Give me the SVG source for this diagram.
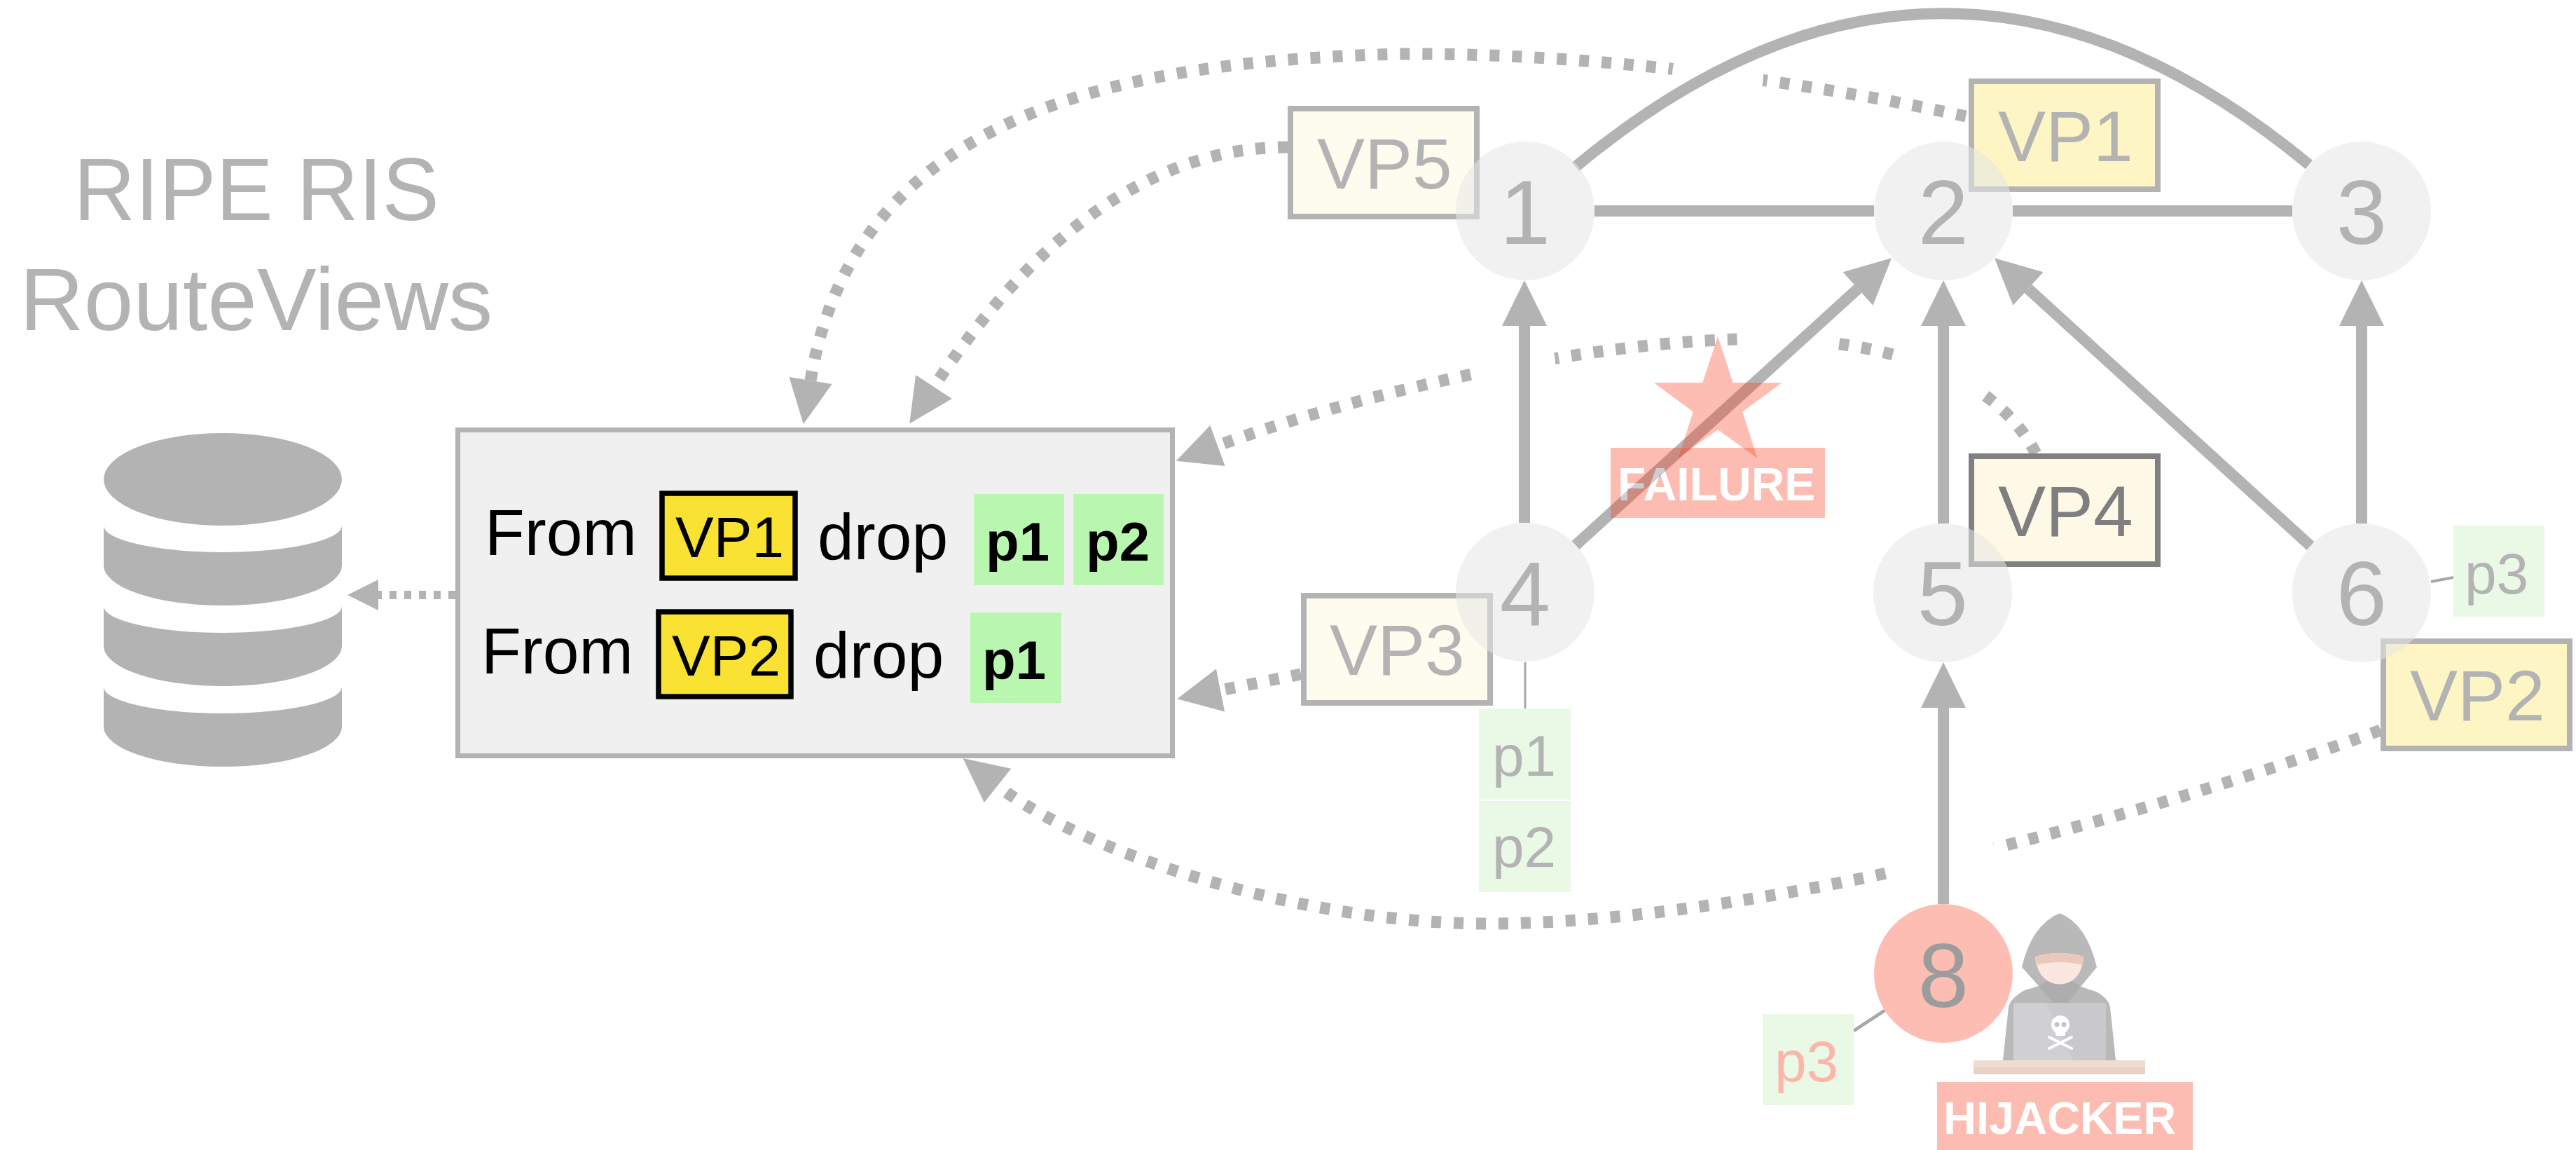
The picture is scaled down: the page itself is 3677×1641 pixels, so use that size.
<svg xmlns="http://www.w3.org/2000/svg" width="3677" height="1641" viewBox="0 0 3677 1641">
<style>
  text { font-family: "Liberation Sans", Arial, Helvetica, sans-serif; }
  .title { font-size: 127px; fill: #b3b3b3; }
  .rule { font-size: 93px; fill: #000; }
  .vpin { font-size: 82px; fill: #000; }
  .pin { font-size: 78px; font-weight: bold; fill: #000; }
  .vp { font-size: 102px; fill: #b3b3b3; }
  .num { font-size: 130px; fill: #b3b3b3; text-anchor: middle; }
  .pfx { font-size: 82px; fill: #b3b3b3; }
  .tag { font-weight: bold; fill: #fff; }
  .dot { fill: none; stroke: #b3b3b3; stroke-width: 17; stroke-dasharray: 14 18; marker-end: url(#dh); }
  .dotsm { fill: none; stroke: #b3b3b3; stroke-width: 12; stroke-dasharray: 10 11; marker-end: url(#sh); }
  .edge { fill: none; stroke: #b3b3b3; stroke-width: 16; }
  .arrow { marker-end: url(#ah); }
  .thin { fill: none; stroke: #a8a8a8; }
  .vpbox { fill: #fefcee; stroke: #b3b3b3; stroke-width: 8; }
  .vpsel { fill: #fdf6c4; }
  .vpdark { fill: #fef8e6; stroke: #808080; }
  .pbox { fill: #e9f9e6; }
  .gbox { fill: #b9f7b1; }
  .ybox { fill: #f9e231; stroke: #000; stroke-width: 7.5; }
  .node { fill: #e6e6e6; fill-opacity: .55; }
  .hot { fill: #f94226; }
</style>
<defs>
  <!-- solid arrowhead for AS links -->
  <marker id="ah" markerUnits="userSpaceOnUse" markerWidth="70" markerHeight="70" refX="0" refY="35" orient="auto" overflow="visible">
    <path d="M0,3 L65,35 L0,67 z" fill="#b3b3b3"/>
  </marker>
  <!-- arrowhead for dotted feeds -->
  <marker id="dh" markerUnits="userSpaceOnUse" markerWidth="66" markerHeight="64" refX="0" refY="32" orient="auto" overflow="visible">
    <path d="M0,1 L63,32 L0,63 z" fill="#b3b3b3"/>
  </marker>
  <!-- small arrowhead towards the database -->
  <marker id="sh" markerUnits="userSpaceOnUse" markerWidth="46" markerHeight="46" refX="0" refY="22" orient="auto" overflow="visible">
    <path d="M0,0 L44,22 L0,44 z" fill="#b3b3b3"/>
  </marker>
  <!-- breaks where dotted feeds cross solid links -->
  <mask id="gaps" maskUnits="userSpaceOnUse" x="0" y="0" width="3677" height="1641">
    <rect width="3677" height="1641" fill="#fff"/>
    <circle cx="2452" cy="107" r="65" fill="#000"/>
    <circle cx="2768" cy="532" r="66" fill="#000"/>
    <circle cx="2556" cy="485" r="67" fill="#000"/>
    <circle cx="2165" cy="518" r="55" fill="#000"/>
    <circle cx="2775" cy="1233" r="76" fill="#000"/>
  </mask>
</defs>

<rect width="3677" height="1641" fill="#fff"/>

<!-- collectors -->
<g id="collectors">
  <text class="title" x="105" y="314" textLength="522" lengthAdjust="spacingAndGlyphs">RIPE RIS</text>
  <text class="title" x="28" y="471">RouteViews</text>
</g>

<g id="database" fill="#b3b3b3">
  <ellipse cx="318" cy="684" rx="170" ry="66"/>
  <path d="M148,750 A170,38 0 0 0 488,750 L488,807 A170,57 0 0 1 148,807 Z"/>
  <path d="M148,865 A170,38 0 0 0 488,865 L488,922 A170,57 0 0 1 148,922 Z"/>
  <path d="M148,980 A170,38 0 0 0 488,980 L488,1037 A170,57 0 0 1 148,1037 Z"/>
</g>

<!-- filter rules -->
<g id="filter">
  <rect x="653.5" y="613.5" width="1020" height="465" fill="#f0f0f0" stroke="#b3b3b3" stroke-width="7"/>
  <text class="rule" x="692" y="792">From</text>
  <rect class="ybox" x="945" y="704" width="190" height="121"/>
  <text class="vpin" x="964" y="795">VP1</text>
  <text class="rule" x="1167" y="798">drop</text>
  <rect class="gbox" x="1390" y="705" width="129" height="130"/>
  <text class="pin" x="1407" y="800">p1</text>
  <rect class="gbox" x="1532" y="705" width="129" height="130"/>
  <text class="pin" x="1550" y="800">p2</text>

  <text class="rule" x="687" y="961">From</text>
  <rect class="ybox" x="940" y="873" width="189" height="121"/>
  <text class="vpin" x="959" y="964">VP2</text>
  <text class="rule" x="1161" y="967">drop</text>
  <rect class="gbox" x="1385" y="874" width="130" height="129"/>
  <text class="pin" x="1402" y="969">p1</text>
</g>

<!-- connectors -->
<g id="connectors">
  <g mask="url(#gaps)">
    <path class="dot" d="M2806,166 C2550,110 2250,75 1995,77 C1600,88 1220,160 1157,543"/>
    <path class="dot" d="M1838,210 C1650,210 1480,330 1333,552"/>
    <path class="dot" d="M2906,647 Q2840,520 2620,490 C2400,460 2000,540 1738,636"/>
    <path class="dot" d="M1857,962 L1742,985"/>
    <path class="dot" d="M3398,1042 C2950,1205 2450,1318 2123,1318 C1850,1318 1542,1214 1424,1121"/>
  </g>
  <path class="dotsm" d="M650,849 L540,849"/>

  <path class="edge" d="M2276,301 H2675"/>
  <path class="edge" d="M2873,301 H3272"/>
  <path class="edge" stroke-width="14" d="M2249,238 Q2772,-198 3296,235"/>
  <path class="edge arrow" d="M2176,746 V465"/>
  <path class="edge arrow" d="M2774,747 V465"/>
  <path class="edge arrow" d="M3371,747 V465"/>
  <path class="edge arrow" d="M2774,1290 V1010"/>
  <path class="edge arrow" d="M2249,778 L2652,412"/>
  <path class="edge arrow" d="M3298,779 L2895,412"/>

  <path class="thin" stroke-width="3" d="M2177,945 V1011"/>
  <path class="thin" stroke-width="4" d="M3470,830 L3502,824"/>
  <path class="thin" stroke-width="5" d="M2690,1442 L2646,1471"/>
</g>

<!-- vantage points -->
<g id="vp5"><rect class="vpbox" x="1842" y="155" width="266" height="154"/><text class="vp" x="1880" y="269">VP5</text></g>
<g id="vp1"><rect class="vpbox vpsel" x="2814" y="116" width="266" height="154"/><text class="vp" x="2852" y="230">VP1</text></g>
<g id="vp3"><rect class="vpbox" x="1861" y="850" width="266" height="153"/><text class="vp" x="1898" y="963">VP3</text></g>
<g id="vp4"><rect class="vpbox vpdark" x="2814" y="651" width="266" height="154"/><text class="vp" x="2852" y="765" style="fill:#7f7f7f">VP4</text></g>
<g id="vp2"><rect class="vpbox vpsel" x="3402" y="915" width="266" height="153"/><text class="vp" x="3440" y="1028">VP2</text></g>

<!-- announced prefixes -->
<g id="prefixes-as4">
  <rect class="pbox" x="2111" y="1011" width="131" height="130"/>
  <text class="pfx" x="2130" y="1107">p1</text>
  <rect class="pbox" x="2111" y="1143" width="131" height="130"/>
  <text class="pfx" x="2130" y="1237">p2</text>
</g>
<g id="prefix-as6">
  <rect class="pbox" x="3502" y="750" width="130" height="130"/>
  <text class="pfx" x="3518" y="847">p3</text>
</g>
<g id="prefix-as8">
  <rect class="pbox" x="2516" y="1447" width="130" height="130"/>
  <text class="pfx" x="2533" y="1543" style="fill:#fdb5aa">p3</text>
</g>

<!-- autonomous systems -->
<g id="as1"><circle class="node" cx="2177" cy="301" r="99"/><text class="num" x="2177" y="348">1</text></g>
<g id="as2"><circle class="node" cx="2774" cy="301" r="99"/><text class="num" x="2774" y="348">2</text></g>
<g id="as3"><circle class="node" cx="3371" cy="301" r="99"/><text class="num" x="3371" y="348">3</text></g>
<g id="as4"><circle class="node" cx="2177" cy="845" r="99"/><text class="num" x="2177" y="892">4</text></g>
<g id="as5"><circle class="node" cx="2773" cy="846" r="99"/><text class="num" x="2773" y="892">5</text></g>
<g id="as6"><circle class="node" cx="3371" cy="846" r="99"/><text class="num" x="3371" y="892">6</text></g>
<g id="as8"><circle cx="2774" cy="1389" r="99" fill="#fdbdb3"/><text class="num" x="2774" y="1437" style="fill:#9c9c9c">8</text></g>

<!-- link failure -->
<g id="failure">
  <g opacity=".35">
    <polygon class="hot" points="2452,480 2473.7,546.1 2543.3,546.3 2487.2,587.4 2508.4,653.7 2452,613 2395.6,653.7 2416.8,587.4 2360.7,546.3 2430.3,546.1"/>
  </g>
  <g opacity=".35">
    <rect class="hot" x="2299" y="639" width="306" height="100"/>
    <text class="tag" x="2309" y="714" font-size="66">FAILURE</text>
  </g>
</g>

<!-- hijacker -->
<g id="hijacker">
  <path fill="#b9b9b9" d="M2859,1513 L2867,1437 Q2869,1425 2890,1413 L2910,1407 L2886,1380 Q2900,1320 2940,1303 Q2978,1318 2993,1380 L2970,1408 L2992,1415 Q3010,1425 3012,1437 L3020,1513 Z"/>
  <path fill="#adadad" d="M2910,1407 L2931,1432 L2951,1432 L2970,1408 L2955,1398 L2925,1398 Z"/>
  <path fill="#fbe7df" d="M2905,1365 Q2940,1355 2974,1365 Q2972,1392 2955,1401 Q2940,1408 2925,1401 Q2908,1392 2905,1365 Z"/>
  <path fill="#eac9bb" d="M2905,1365 Q2940,1355 2974,1365 L2973,1377 Q2940,1369 2906,1377 Z"/>
  <rect x="2874" y="1431" width="132" height="82" rx="4" fill="#c9c9cd"/>
  <path fill="#d0d0d4" d="M2874,1435 Q2874,1431 2878,1431 L2921,1431 L2959,1513 L2874,1513 Z"/>
  <g fill="#fff">
    <ellipse cx="2941" cy="1462" rx="13" ry="13"/>
    <rect x="2934" y="1468" width="14" height="10" rx="2"/>
  </g>
  <g fill="#c4c4c8">
    <circle cx="2936" cy="1462" r="3.5"/>
    <circle cx="2946" cy="1462" r="3.5"/>
  </g>
  <path stroke="#fff" stroke-width="4" stroke-linecap="round" d="M2925,1480 L2957,1496 M2957,1480 L2925,1496"/>
  <rect x="2817" y="1513" width="245" height="10" fill="#efdbd1"/>
  <rect x="2817" y="1523" width="245" height="10" fill="#e8d1c6"/>
  <g opacity=".35">
    <rect class="hot" x="2765" y="1544" width="365" height="97"/>
    <text class="tag" x="2774" y="1618" font-size="65">HIJACKER</text>
  </g>
</g>
</svg>
